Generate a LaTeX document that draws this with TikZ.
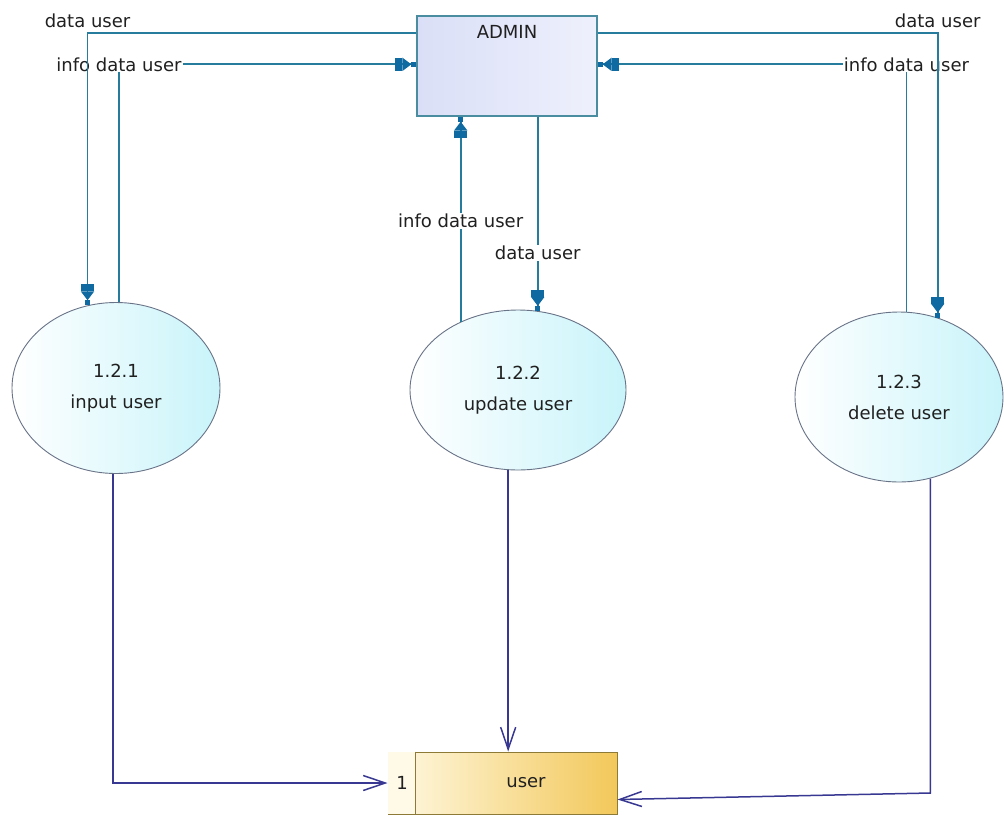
\documentclass[tikz,border=0pt]{standalone}
\usepackage{fontspec}
\setmainfont{DejaVu Sans}
\usepackage{tikz}
\usetikzlibrary{arrows.meta, calc, shapes.geometric}
\definecolor{flowteal}{RGB}{38,124,156}
\definecolor{tipblue}{RGB}{14,106,160}
\definecolor{storeblue}{RGB}{56,56,146}
\definecolor{labelgray}{RGB}{32,32,32}
\definecolor{adminline}{RGB}{74,140,160}
\definecolor{procline}{RGB}{105,115,135}
\definecolor{storeline}{RGB}{140,122,54}
\definecolor{storeid}{RGB}{255,250,232}
\tikzset{
	bolt/.tip={Rectangle[length=7pt,width=13pt,color=tipblue]Triangle[length=9pt,width=13pt,color=tipblue]Rectangle[length=5pt,width=5pt,color=tipblue]},
	vee/.tip={Straight Barb[length=22pt,width=15pt]},
}
\begin{document}
\begin{tikzpicture}[x=1pt,y=-1pt,
	txt/.style={font=\fontsize{18}{21}\selectfont, text=labelgray, inner sep=2pt},
	dflow/.style={flowteal, line width=1.8pt, -bolt},
	sflow/.style={storeblue, line width=1.5pt, -vee},
	proc/.style={ellipse, draw=procline, line width=0.9pt, left color=white, right color={rgb,255:red,200;green,244;blue,250}, align=center, font=\fontsize{18}{31}\selectfont, text=labelgray},
	cut/.style={txt, fill=white, inner sep=1pt}]
\useasboundingbox (0,0) rectangle (1004,817);

\node[draw=adminline, line width=1.3pt, minimum width=180pt, minimum height=100pt, left color={rgb,255:red,218;green,223;blue,247}, right color={rgb,255:red,238;green,240;blue,252}] (admin) at (507,66) {};
\node[txt] (admintitle) at (507,32) {ADMIN};

\node[proc, minimum width=208pt, minimum height=171pt] (p1) at (116,388) {1.2.1\\input user};
\node[proc, minimum width=216pt, minimum height=160pt] (p2) at (518,390) {1.2.2\\update user};
\node[proc, minimum width=208pt, minimum height=170pt] (p3) at (899,397) {1.2.3\\delete user};

\node[draw=storeline, line width=1pt, minimum width=229pt, minimum height=62pt, left color={rgb,255:red,255;green,249;blue,228}, right color={rgb,255:red,242;green,200;blue,90}] (store) at (502.5,783) {};
\fill[storeid] ($(store.north west)+(0.5,0.5)$) rectangle ($(store.south west)+(27.5,-0.5)$);
\draw[storeline, line width=1pt] ($(store.north west)+(28,0)$) -- ($(store.south west)+(28,0)$);
\node[txt] (storeno) at (402,783) {1};
\node[txt] (storename) at (526,783) {user};

\draw[dflow] (p1.88.7) |- node[pos=.5, cut] (l1) {info data user} ($(admin.north west)+(0,49)$);
\draw[dflow] ($(admin.north west)+(0,18)$) -| node[pos=.5, txt, above=3pt] (l2) {data user} (p1.109.5);

\draw[dflow] (p2.130.7) -- node[pos=.49, cut] (l3) {info data user} (p2.130.7 |- admin.south);
\draw[dflow] (admin.south -| p2.76.4) -- node[pos=.7, cut] (l4) {data user} (p2.76.4);

\draw[dflow] (p3.85.3) |- node[pos=.5, cut] (l5) {info data user} ($(admin.north east)+(0,49)$);
\draw[dflow] ($(admin.north east)+(0,18)$) -| node[pos=.5, txt, above=3pt] (l6) {data user} (p3.64.3);

\coordinate (bend3) at (p3.291.6 |- 0,793);
\coordinate (storein) at ($(store.south east)+(0,-15)$);
\draw[sflow] (p1.268) |- (store.west);
\draw[sflow] (p2.263.6) -- (p2.263.6 |- store.north);
\draw[sflow] (p3.291.6) -- (bend3) -- (storein);
\end{tikzpicture}
\end{document}
